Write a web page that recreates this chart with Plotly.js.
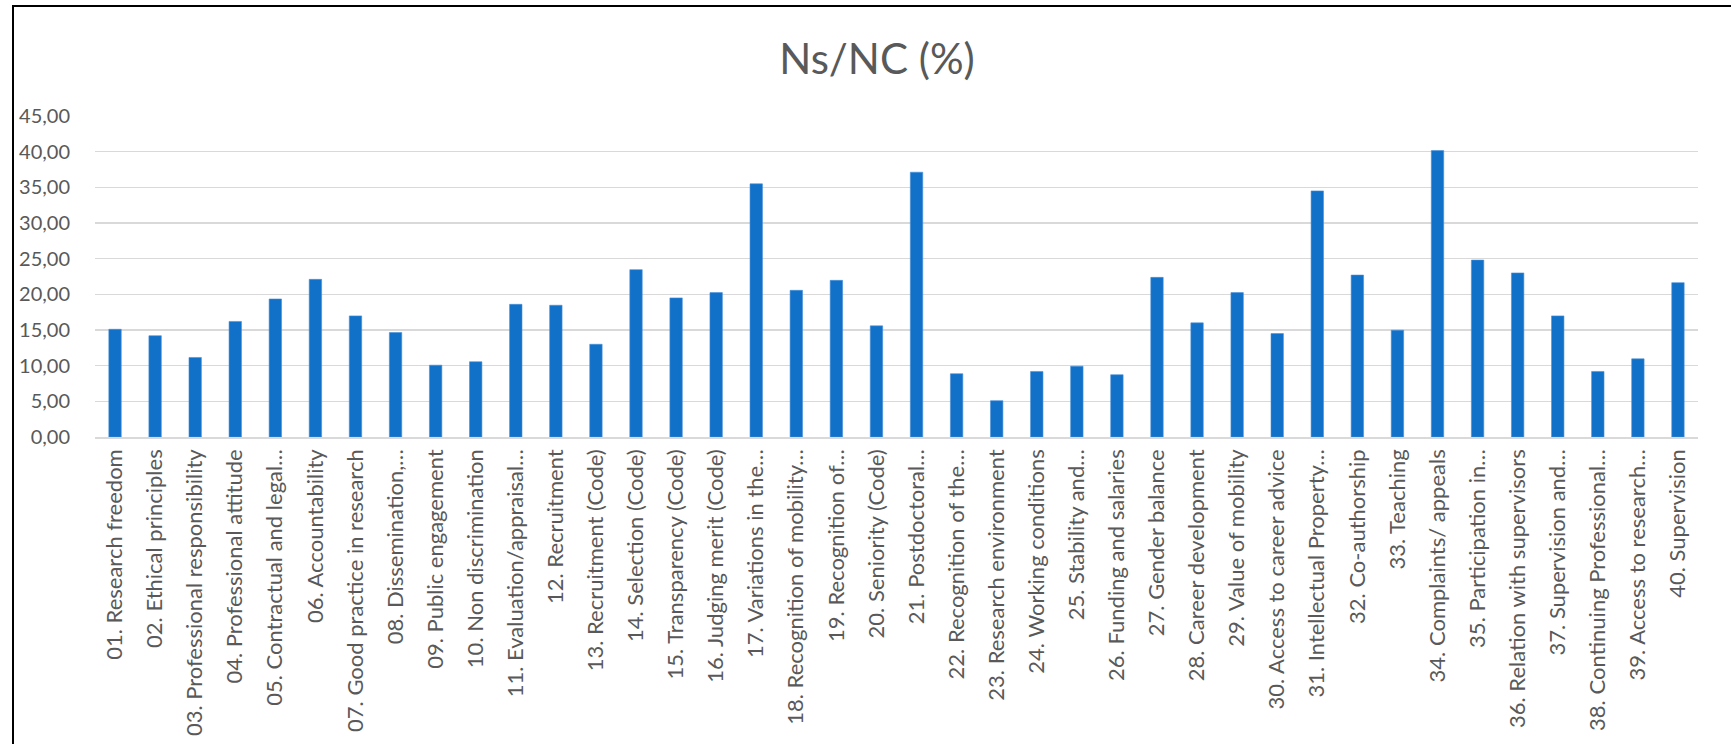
<!DOCTYPE html>
<html>
<head>
<meta charset="utf-8">
<script src="https://cdn.plot.ly/plotly-3.0.1.min.js"></script>
<style>
  html, body { margin: 0; padding: 0; background: #ffffff; overflow: hidden; }
  #chart { width: 1731px; height: 744px; position: absolute; left: 0; top: 0; }
  #frame { position: absolute; left: 12px; top: 5px; width: 1740px; height: 760px;
           border-left: 2px solid #000; border-top: 2px solid #000; pointer-events: none; }
</style>
</head>
<body>
<div id="chart"></div>
<div id="frame"></div>
<script>
const categories = [
  "01. Research freedom",
  "02. Ethical principles",
  "03. Professional responsibility",
  "04. Professional attitude",
  "05. Contractual and legal…",
  "06. Accountability",
  "07. Good practice in research",
  "08. Dissemination,…",
  "09. Public engagement",
  "10. Non discrimination",
  "11. Evaluation/appraisal…",
  "12. Recruitment",
  "13. Recruitment (Code)",
  "14. Selection (Code)",
  "15. Transparency (Code)",
  "16. Judging merit (Code)",
  "17. Variations in the…",
  "18. Recognition of mobility…",
  "19. Recognition of…",
  "20. Seniority (Code)",
  "21. Postdoctoral…",
  "22. Recognition of the…",
  "23. Research environment",
  "24. Working conditions",
  "25. Stability and…",
  "26. Funding and salaries",
  "27. Gender balance",
  "28. Career development",
  "29. Value of mobility",
  "30. Access to career advice",
  "31. Intellectual Property…",
  "32. Co-authorship",
  "33. Teaching",
  "34. Complaints/ appeals",
  "35. Participation in…",
  "36. Relation with supervisors",
  "37. Supervision and…",
  "38. Continuing Professional…",
  "39. Access to research…",
  "40. Supervision"
];

const nsncValues = [
  15.10, 14.20, 11.15, 16.20, 19.35, 22.10, 16.98, 14.65, 10.07, 10.55,
  18.60, 18.47, 13.00, 23.46, 19.50, 20.24, 35.49, 20.56, 21.96, 15.58,
  37.12, 8.87, 5.09, 9.19, 9.93, 8.73, 22.38, 16.00, 20.24, 14.50,
  34.50, 22.70, 14.97, 40.15, 24.80, 23.00, 16.98, 9.19, 10.96, 21.64
];

const yTickValues = [0, 5, 10, 15, 20, 25, 30, 35, 40, 45];

const chartTitle = "Ns/NC (%)";

const trace = {
  type: "bar",
  x: categories,
  y: nsncValues,
  marker: { color: "#1170C8", line: { color: "#4A90D6", width: 0.6 } },
  hoverinfo: "x+y"
};

const layout = {
  width: 1731,
  height: 744,
  paper_bgcolor: "#ffffff",
  plot_bgcolor: "#ffffff",
  separators: ",.",
  font: { family: "Lato, 'Open Sans', sans-serif", color: "#595959" },
  margin: { l: 94.5, r: 32.5, t: 116, b: 307, pad: 0 },
  bargap: 0.69,
  showlegend: false,
  title: {
    text: chartTitle,
    font: { family: "Lato, 'Open Sans', sans-serif", size: 42, color: "#595959" },
    xref: "container", x: 877 / 1731, xanchor: "center",
    yref: "container", y: 1 - 59 / 744, yanchor: "middle"
  },
  xaxis: {
    type: "category",
    tickangle: -90,
    tickfont: { size: 22, color: "#595959" },
    ticks: "outside", ticklen: 2, tickcolor: "rgba(0,0,0,0)",
    showgrid: false,
    showline: true, linecolor: "#d9d9d9", linewidth: 1.5,
    automargin: false
  },
  yaxis: {
    range: [0, 45],
    tickvals: yTickValues,
    tickformat: ".2f",
    tickfont: { size: 20, color: "#595959" },
    ticks: "outside", ticklen: 20, tickcolor: "rgba(0,0,0,0)",
    showgrid: true, gridcolor: "#d9d9d9", gridwidth: 1.3,
    zeroline: false,
    showline: false,
    automargin: false
  }
};

Plotly.newPlot("chart", [trace], layout, { displayModeBar: false, staticPlot: true });
</script>
</body>
</html>
